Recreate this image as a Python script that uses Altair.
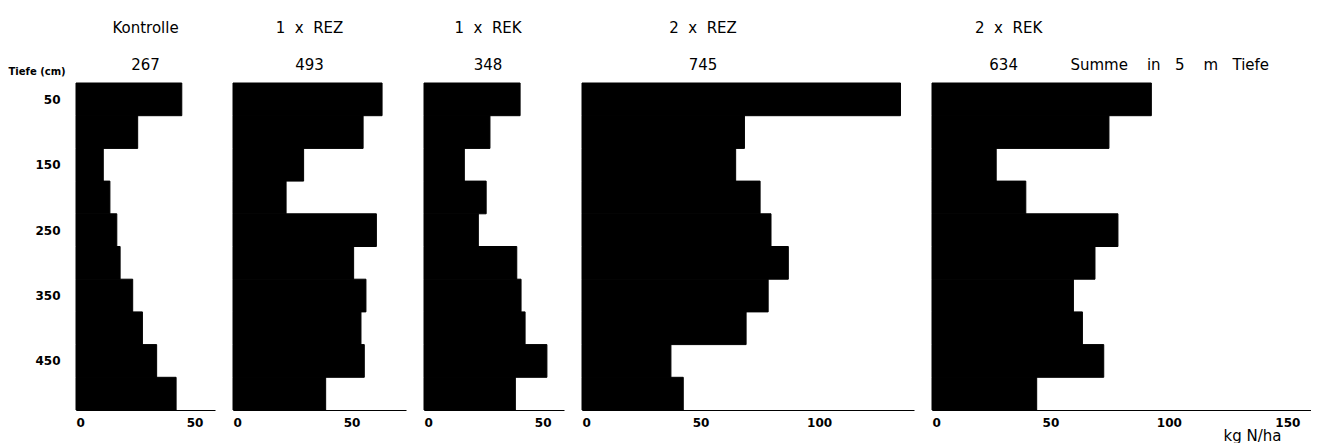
import altair as alt
import pandas as pd

# ---- data ----
depths = [50, 100, 150, 200, 250, 300, 350, 400, 450, 500]   # cm, sampling depth (layer centre)
layer_half = 25                                                 # each layer is 50 cm thick

names = ["Kontrolle", "1\u00a0\u00a0x\u00a0\u00a0REZ", "1\u00a0\u00a0x\u00a0\u00a0REK",
         "2\u00a0\u00a0x\u00a0\u00a0REZ", "2\u00a0\u00a0x\u00a0\u00a0REK"]
totals = [267, 493, 348, 745, 634]

kontrolle = [44.6, 26.0, 11.5, 14.3, 17.2, 18.6, 23.9, 28.0, 34.0, 42.2]
rez1 = [62.9, 54.9, 29.8, 22.4, 60.5, 50.9, 56.1, 54.0, 55.4, 39.1]
rek1 = [40.5, 27.8, 17.0, 26.2, 22.9, 39.1, 40.9, 42.6, 51.8, 38.5]
rez2 = [134.3, 68.5, 64.8, 75.1, 79.7, 87.0, 78.5, 69.2, 37.5, 42.7]
rek2 = [92.6, 74.7, 27.1, 39.6, 78.5, 68.8, 59.7, 63.5, 72.5, 44.2]
series = [kontrolle, rez1, rek1, rez2, rek2]

x_max = [58.6, 73.0, 59.0, 140.0, 160.0]
x_ticks = [[0, 50], [0, 50], [0, 50], [0, 50, 100], [0, 50, 100, 150]]
y_ticks = [50, 150, 250, 350, 450]
y_title = "Tiefe (cm)"
x_title = "kg N/ha"
NB = "\u00a0"
note = "Summe" + NB * 4 + "in" + NB * 3 + "5" + NB * 4 + "m" + NB * 3 + "Tiefe"

PX_PER_UNIT = 2.37
PLOT_H = 327
FONT = "DejaVu Sans"
title_dx = [0, -10, -6, -45, 43]
title_offset = [-7, 10, 10, 10, 10]


def panel(i):
    df = pd.DataFrame({"depth": depths, "value": series[i]})
    first = i == 0
    last = i == len(series) - 1

    if first:
        y_axis = alt.Axis(values=y_ticks, title=y_title, titleAngle=0, titleAlign="left",
                          titleX=-68, titleY=-9, titleBaseline="alphabetic",
                          titleFont=FONT, titleFontSize=10, titleFontWeight="bold",
                          labelFont=FONT, labelFontSize=12, labelFontWeight="bold",
                          labelColor="black", titleColor="black",
                          ticks=False, tickSize=0, domain=False, grid=False, labelPadding=16)
    else:
        y_axis = None

    x_axis_kw = dict(values=x_ticks[i], format="d", labelFont=FONT, labelFontSize=12,
                     labelFontWeight="bold", labelColor="black", ticks=False, tickSize=0,
                     domainColor="black", domainWidth=1, grid=False, labelPadding=7)
    if last:
        x_axis = alt.Axis(title=x_title, titleFont=FONT, titleFontSize=15, titleFontWeight="normal",
                          titleColor="black", titleAlign="right", titleX=349, titleY=30,
                          titleBaseline="alphabetic", **x_axis_kw)
    else:
        x_axis = alt.Axis(title=None, **x_axis_kw)

    if last:
        title = alt.TitleParams(text=names[i],
                                subtitle="\u200b" + NB * 3 + str(totals[i]) + NB * 11 + note,
                                anchor="start", dx=title_dx[i], frame="group",
                                offset=title_offset[i])
    else:
        title = alt.TitleParams(text=names[i], subtitle=str(totals[i]), anchor="middle",
                                dx=title_dx[i], frame="group", offset=title_offset[i])

    chart = alt.Chart(df, title=title).transform_calculate(
        top=f"datum.depth - {layer_half}", bottom=f"datum.depth + {layer_half}"
    ).mark_rect(color="black", stroke="black", strokeWidth=1).encode(
        x=alt.X("value:Q", scale=alt.Scale(domain=[0, x_max[i]], nice=False, zero=True), axis=x_axis),
        x2=alt.datum(0),
        y=alt.Y("top:Q", scale=alt.Scale(domain=[25, 525], reverse=True, nice=False, zero=False),
                axis=y_axis),
        y2="bottom:Q",
    ).properties(width=round(x_max[i] * PX_PER_UNIT), height=PLOT_H)
    return chart


chart = alt.hconcat(*[panel(i) for i in range(len(series))], spacing=18, bounds="flush").properties(
    padding={"top": 12, "left": 0, "right": 0, "bottom": 0}, background="white"
).configure_view(stroke=None).configure_title(
    font=FONT, fontSize=15, fontWeight="normal", color="black",
    subtitleFont=FONT, subtitleFontSize=15, subtitleColor="black",
    subtitlePadding=22
)

chart.save("out.html", embed_options={"renderer": "svg", "actions": False})
